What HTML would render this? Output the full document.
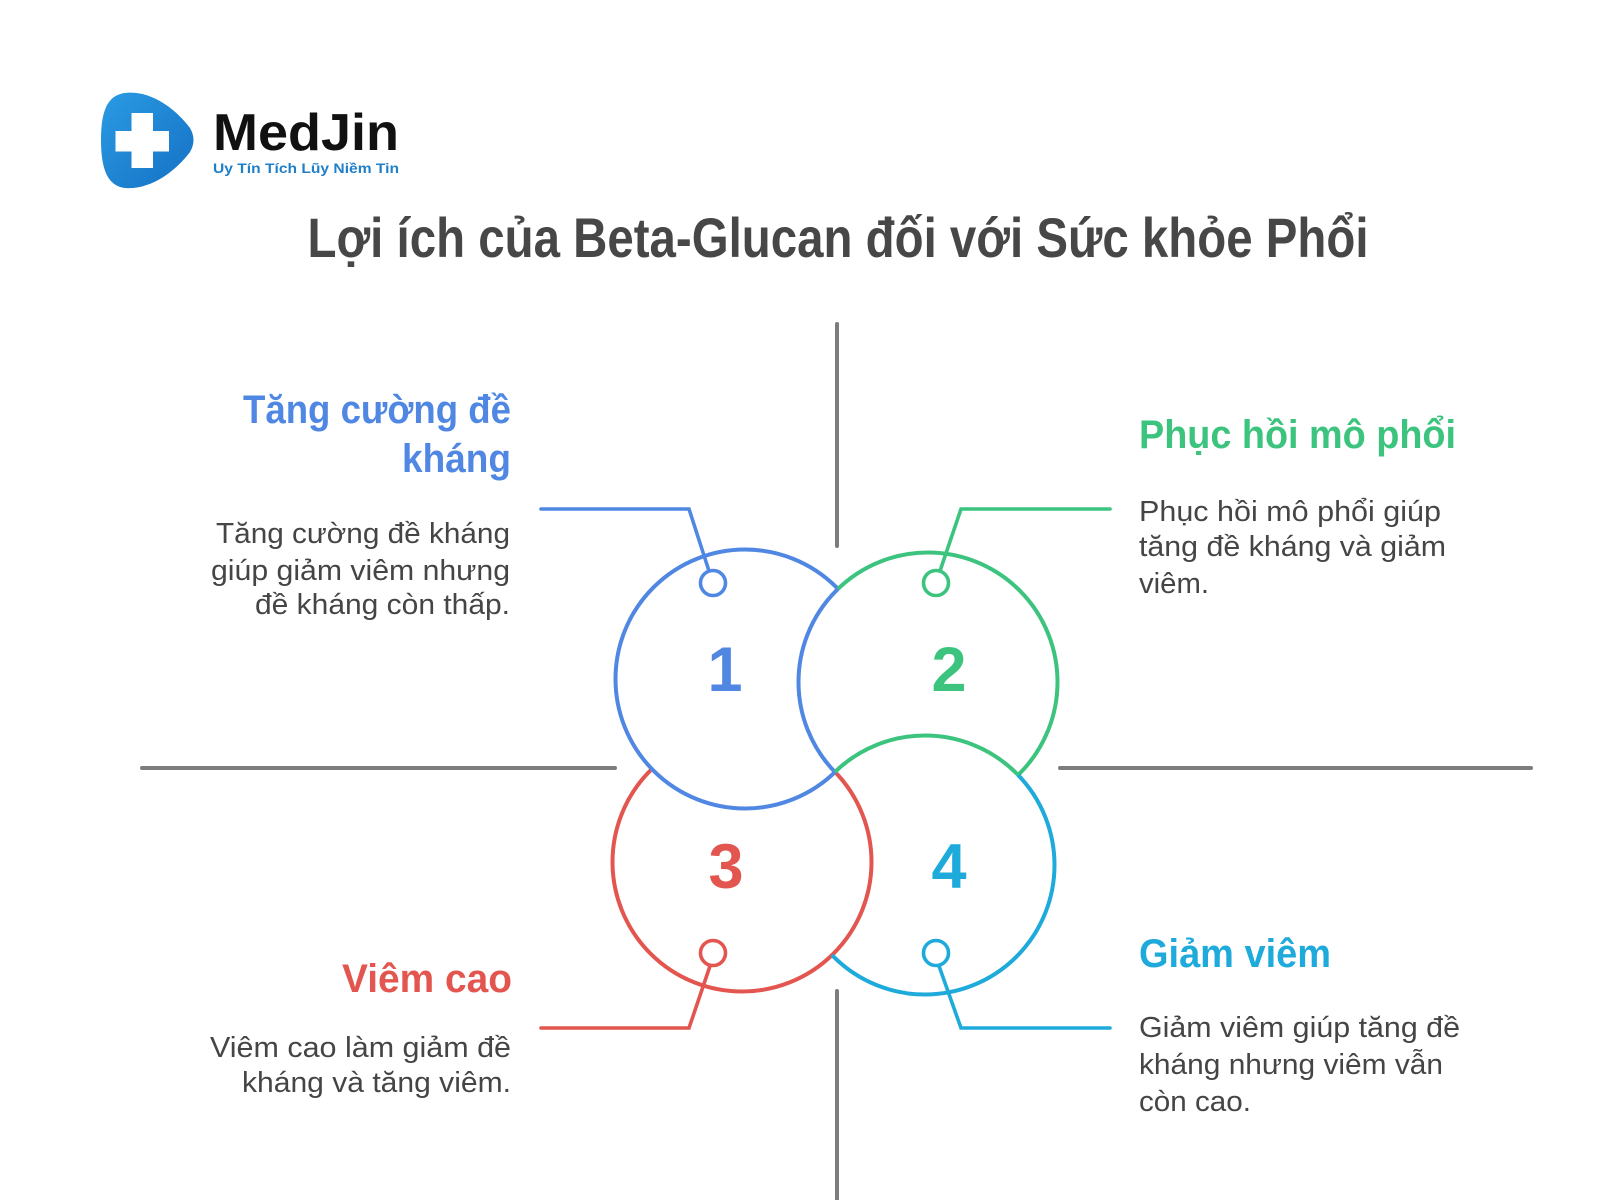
<!DOCTYPE html>
<html>
<head>
<meta charset="utf-8">
<style>
  html, body { margin: 0; padding: 0; background: #ffffff; }
  svg { display: block; }
  text { font-family: "Liberation Sans", "DejaVu Sans", sans-serif; }
</style>
</head>
<body>
<svg width="1600" height="1200" viewBox="0 0 1600 1200" xmlns="http://www.w3.org/2000/svg">
  <defs>
    <linearGradient id="lg" x1="0" y1="0" x2="1" y2="1">
      <stop offset="0" stop-color="#2a9be3"/>
      <stop offset="1" stop-color="#1570c4"/>
    </linearGradient>
    <mask id="m_c1" maskUnits="userSpaceOnUse" x="0" y="0" width="1600" height="1200">
      <rect x="0" y="0" width="1600" height="1200" fill="#fff"/>
      <circle cx="928" cy="682" r="129.5" fill="#000"/>
    </mask>
    <mask id="m_c2g" maskUnits="userSpaceOnUse" x="0" y="0" width="1600" height="1200">
      <rect x="0" y="0" width="1600" height="1200" fill="#fff"/>
      <circle cx="745" cy="679" r="129.5" fill="#000"/>
      <circle cx="925" cy="865" r="129.5" fill="#000"/>
    </mask>
    <mask id="m_c2b" maskUnits="userSpaceOnUse" x="0" y="0" width="1600" height="1200">
      <rect x="0" y="0" width="1600" height="1200" fill="#000"/>
      <circle cx="745" cy="679" r="129.5" fill="#fff"/>
      <circle cx="925" cy="865" r="129.5" fill="#000"/>
    </mask>
    <mask id="m_c4c" maskUnits="userSpaceOnUse" x="0" y="0" width="1600" height="1200">
      <rect x="0" y="0" width="1600" height="1200" fill="#fff"/>
      <circle cx="742" cy="862" r="129.5" fill="#000"/>
      <circle cx="928" cy="682" r="129.5" fill="#000"/>
    </mask>
    <mask id="m_c4g" maskUnits="userSpaceOnUse" x="0" y="0" width="1600" height="1200">
      <rect x="0" y="0" width="1600" height="1200" fill="#000"/>
      <circle cx="928" cy="682" r="129.5" fill="#fff"/>
      <circle cx="742" cy="862" r="129.5" fill="#000"/>
    </mask>
    <mask id="m_c3" maskUnits="userSpaceOnUse" x="0" y="0" width="1600" height="1200">
      <rect x="0" y="0" width="1600" height="1200" fill="#fff"/>
      <circle cx="745" cy="679" r="129.5" fill="#000"/>
    </mask>
  </defs>

  <rect x="0" y="0" width="1600" height="1200" fill="#ffffff"/>

  <!-- Logo -->
  <path d="M125,93 C150,90 175,108 190,128 Q197,140 190,152 C175,172 150,190 125,188 C108,186 101,170 101,140 C101,110 108,95 125,93 Z" fill="url(#lg)"/>
  <rect x="131.5" y="113" width="21.5" height="55" fill="#ffffff"/>
  <rect x="115.5" y="131" width="53.5" height="20.5" fill="#ffffff"/>
  <text x="213" y="150" font-size="52" font-weight="bold" fill="#111111" textLength="186" lengthAdjust="spacingAndGlyphs">MedJin</text>
  <text x="213" y="173" font-size="14" font-weight="bold" fill="#1f7fc8" textLength="186" lengthAdjust="spacingAndGlyphs">Uy Tín Tích Lũy Niềm Tin</text>

  <!-- Title -->
  <text x="307.5" y="257" font-size="56" font-weight="bold" fill="#474747" textLength="1061" lengthAdjust="spacingAndGlyphs">Lợi ích của Beta-Glucan đối với Sức khỏe Phổi</text>

  <!-- Gray cross lines -->
  <g stroke="#7d7d7d" stroke-width="4" stroke-linecap="round">
    <line x1="837" y1="324" x2="837" y2="546"/>
    <line x1="837" y1="991" x2="837" y2="1202"/>
    <line x1="142" y1="768" x2="615" y2="768"/>
    <line x1="1060" y1="768" x2="1531" y2="768"/>
  </g>

  <!-- Interlocking circles -->
  <g fill="none" stroke-width="4">
    <circle cx="742" cy="862" r="129.5" stroke="#e35650" mask="url(#m_c3)"/>
    <circle cx="745" cy="679" r="129.5" stroke="#4f87e3" mask="url(#m_c1)"/>
    <circle cx="928" cy="682" r="129.5" stroke="#3cc47f" mask="url(#m_c2g)"/>
    <circle cx="928" cy="682" r="129.5" stroke="#4f87e3" mask="url(#m_c2b)"/>
    <circle cx="925" cy="865" r="129.5" stroke="#1eaadb" mask="url(#m_c4c)"/>
    <circle cx="925" cy="865" r="129.5" stroke="#3cc47f" mask="url(#m_c4g)"/>
  </g>

  <!-- Connectors -->
  <g fill="none" stroke-width="3.6" stroke-linecap="round" stroke-linejoin="miter">
    <polyline points="541,509 689,509 709,571" stroke="#4f87e3"/>
    <polyline points="1110,509 961,509 940,571" stroke="#3cc47f"/>
    <polyline points="541,1028 689,1028 710,966" stroke="#e35650"/>
    <polyline points="1110,1028 961,1028 939,966" stroke="#1eaadb"/>
  </g>
  <g fill="#ffffff" stroke-width="3.6">
    <circle cx="713" cy="583" r="12.5" stroke="#4f87e3"/>
    <circle cx="936" cy="583" r="12.5" stroke="#3cc47f"/>
    <circle cx="713" cy="953" r="12.5" stroke="#e35650"/>
    <circle cx="936" cy="953" r="12.5" stroke="#1eaadb"/>
  </g>

  <!-- Numbers -->
  <g font-size="63" font-weight="bold" text-anchor="middle">
    <text x="725" y="691" fill="#4f87e3">1</text>
    <text x="949" y="691" fill="#3cc47f">2</text>
    <text x="726" y="888" fill="#e35650">3</text>
    <text x="949" y="888" fill="#1eaadb">4</text>
  </g>

  <!-- Top-left block -->
  <g font-weight="bold" font-size="40" fill="#4f87e3" text-anchor="end">
    <text x="511" y="423" textLength="268" lengthAdjust="spacingAndGlyphs">Tăng cường đề</text>
    <text x="511" y="472" textLength="109" lengthAdjust="spacingAndGlyphs">kháng</text>
  </g>
  <g font-size="29" fill="#454545" text-anchor="end">
    <text x="510" y="543" textLength="294" lengthAdjust="spacingAndGlyphs">Tăng cường đề kháng</text>
    <text x="510" y="580" textLength="299" lengthAdjust="spacingAndGlyphs">giúp giảm viêm nhưng</text>
    <text x="510" y="614" textLength="255" lengthAdjust="spacingAndGlyphs">đề kháng còn thấp.</text>
  </g>

  <!-- Top-right block -->
  <text x="1139" y="448" font-weight="bold" font-size="40" fill="#3cc47f" textLength="317" lengthAdjust="spacingAndGlyphs">Phục hồi mô phổi</text>
  <g font-size="29" fill="#454545">
    <text x="1139" y="521" textLength="302" lengthAdjust="spacingAndGlyphs">Phục hồi mô phổi giúp</text>
    <text x="1139" y="556" textLength="307" lengthAdjust="spacingAndGlyphs">tăng đề kháng và giảm</text>
    <text x="1139" y="593" textLength="70" lengthAdjust="spacingAndGlyphs">viêm.</text>
  </g>

  <!-- Bottom-left block -->
  <text x="512" y="992" font-weight="bold" font-size="40" fill="#e35650" text-anchor="end" textLength="170" lengthAdjust="spacingAndGlyphs">Viêm cao</text>
  <g font-size="29" fill="#454545" text-anchor="end">
    <text x="511" y="1057" textLength="301" lengthAdjust="spacingAndGlyphs">Viêm cao làm giảm đề</text>
    <text x="511" y="1092" textLength="269" lengthAdjust="spacingAndGlyphs">kháng và tăng viêm.</text>
  </g>

  <!-- Bottom-right block -->
  <text x="1139" y="967" font-weight="bold" font-size="40" fill="#1eaadb" textLength="192" lengthAdjust="spacingAndGlyphs">Giảm viêm</text>
  <g font-size="29" fill="#454545">
    <text x="1139" y="1037" textLength="321" lengthAdjust="spacingAndGlyphs">Giảm viêm giúp tăng đề</text>
    <text x="1139" y="1074" textLength="304" lengthAdjust="spacingAndGlyphs">kháng nhưng viêm vẫn</text>
    <text x="1139" y="1111" textLength="112" lengthAdjust="spacingAndGlyphs">còn cao.</text>
  </g>
</svg>
</body>
</html>
